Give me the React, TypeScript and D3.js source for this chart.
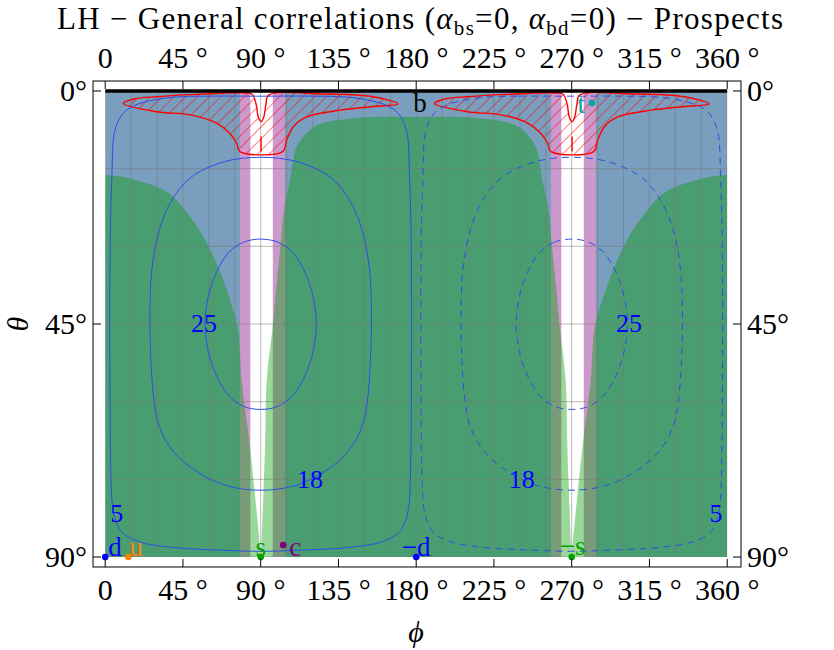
import React from 'react';
import * as d3 from 'd3';

const width = 834;
const height = 650;

// axes
const phiTicks = [0, 45, 90, 135, 180, 225, 270, 315, 360];
const phiTickLabels = ['0', '45 °', '90 °', '135 °', '180 °', '225 °', '270 °', '315 °', '360 °'];
const thetaTicks = [0, 45, 90];
const thetaTickLabels = ['0°', '45°', '90°'];
const phiGrid = [0, 15, 30, 45, 60, 75, 90, 105, 120, 135, 150, 165, 180, 195, 210, 225, 240, 255, 270, 285, 300, 315, 330, 345, 360];
const thetaGrid = [0, 15, 30, 45, 60, 75, 90];

// vertical bands (phi ranges)
const pinkBands = [[78, 104], [258, 284]];
const whiteBands = [[84, 97], [264, 277]];

// green region edges, [phi, theta]
const greenEdgeSide = [
  [0, 16.2], [10.5, 16.6], [29.8, 18.5], [39.4, 20.4], [49.1, 24.3], [56.8, 28.1],
  [64.5, 33.3], [70.3, 38.4], [74.1, 42.3], [77, 46.2], [79, 55.8], [83.8, 68.8],
  [87, 79], [90.2, 90],
];
const greenEdgeMid = [
  [90.2, 90], [92.5, 68.8], [93.5, 55.8], [96.9, 45.6], [98.9, 38.4], [101.2, 30.7],
  [103.5, 23], [107, 17.2], [110.8, 10.8], [118.5, 7.5], [126, 6.2], [145.6, 5.2], [180, 5],
];

// contour levels, left half (top -> bottom), symmetric about phi = 90
const contour5 = [
  [90, 1.0], [58.7, 1.0], [39.4, 1.2], [25.9, 1.9], [16.3, 2.9], [10.5, 4.3], [5.7, 7.5],
  [3.8, 17.2], [2.8, 32.6], [2.8, 59.7], [3.4, 75.1], [4.2, 80], [6.3, 83.2], [10.3, 85.4],
  [20.1, 87.1], [37.5, 88.1], [68.2, 88.7], [90, 88.9],
];
const contour18 = [
  [90, 12.8], [68.4, 13.7], [49.1, 16.8], [38, 21.4], [31, 27.2], [27, 34.6],
  [25.9, 42.9], [26.5, 52], [28.2, 59.7], [31, 64.5], [38, 69], [49.1, 72.6],
  [68.2, 76], [90, 77.1],
];
const contour25 = [
  [90, 28.6], [80, 29.2], [72, 31], [66.5, 33.6], [62, 37], [59, 40.8], [57.8, 44.9],
  [59, 49.2], [62, 53], [66.5, 56.4], [72, 59], [80, 60.9], [90, 61.5],
];
const contourLevels = ['5', '18', '25'];
const contourLabelSolid = [[6.7, 81.5], [118.5, 74.9], [57.2, 44.8]];
const contourLabelDashed = [[353.5, 81.5], [241.1, 74.9], [303.2, 44.8]];

// excluded (hatched) region near theta = 0, repeated at phi + 180
const hatchOutline = [
  [10.5, 2.4], [17.2, 1.5], [29.8, 1.1], [49.1, 0.7], [83.8, 0.45], [85.5, 0.8],
  [87.4, 2.6], [88.6, 5.0], [90.2, 5.9], [91.8, 5.0], [93, 2.6], [94.6, 0.8],
  [126, 0.58], [155, 1.1], [169.6, 2.5], [155, 3.0], [135.9, 3.7], [116.6, 5.0],
  [108.9, 6.9], [105, 9.5], [102.7, 11.7], [78, 11.7], [76.1, 10.1], [72.2, 8.2],
  [64.5, 6.2], [49.1, 4.6], [29.8, 4.0],
];
const hatchSliver = [[90.2, 8.8], [90.2, 11.7]];
const hatchShifts = [0, 180];

// labelled points
const pointNames = ['d', 'u', 's', 'c', '−d', '−s', 't', 'b'];
const pointPhi = [0, 13.4, 90, 103, 180, 270, 281.7, 180];
const pointTheta = [90, 90, 90, 87.7, 90, 90, 2.3, 0];

const pointColors = ['#0000ff', '#ff8000', '#00a000', '#800080', '#0000ff', '#00a000', '#00a8a8', '#000000'];
const pointRadius = [3.3, 3.3, 3.3, 3.3, 3.3, 3.3, 3.3, 0];
const pointLabelOffset = [[3, -1, 'start'], [1, -1, 'start'], [0, -1, 'middle'], [6, 11, 'start'], [0, -1, 'middle'], [1, -2, 'middle'], [-7, 10, 'end'], [-3, 21, 'start']];

const serif = "Liberation Serif, serif";

export default function App() {
  const x = d3.scaleLinear().domain([0, 360]).range([105.2, 727.2]);
  const y = d3.scaleLinear().domain([0, 90]).range([91, 557]);

  const open = d3.line().x(d => x(d[0])).y(d => y(d[1])).curve(d3.curveCatmullRom.alpha(0.5));
  const closed = d3.line().x(d => x(d[0])).y(d => y(d[1])).curve(d3.curveCatmullRomClosed.alpha(0.5));
  const straight = d3.line().x(d => x(d[0])).y(d => y(d[1]));

  const lobeA = `M${x(0)},${y(90)}L` + open(greenEdgeSide).slice(1) + 'Z';
  const lobeC = `M${x(360)},${y(90)}L` + open(greenEdgeSide.map(([p, t]) => [360 - p, t])).slice(1) + 'Z';
  const midFull = greenEdgeMid.concat(greenEdgeMid.slice(0, -1).reverse().map(([p, t]) => [360 - p, t]));
  const lobeB = open(midFull) + 'Z';

  const fullContour = half => half.concat(half.slice(1, -1).reverse().map(([p, t]) => [180 - p, t]));
  const contours = [contour5, contour18, contour25].map(fullContour);

  const frame = { x0: 93, x1: 741, y0: 81, y1: 567 };

  return (
    <svg width={width} height={height} style={{ position: 'absolute', left: 0, top: 0, background: '#fff', fontFamily: serif }}>
      <defs>
        <pattern id="hatch" patternUnits="userSpaceOnUse" width="8.3" height="8.3" patternTransform="rotate(45)">
          <line x1="0" y1="0" x2="0" y2="8.3" stroke="#ff0000" strokeWidth="1" />
        </pattern>
        <clipPath id="plotClip">
          <rect x={x(0)} y={y(0)} width={x(360) - x(0)} height={y(90) - y(0)} />
        </clipPath>
      </defs>

      {/* title */}
      <text x={420} y={29} textAnchor="middle" fontSize={31} textLength={726} lengthAdjust="spacing">
        LH − General correlations (<tspan fontStyle="italic">α</tspan>
        <tspan fontSize={21} dy={6}>bs</tspan>
        <tspan dy={-6}>=0, </tspan>
        <tspan fontStyle="italic">α</tspan>
        <tspan fontSize={21} dy={6}>bd</tspan>
        <tspan dy={-6}>=0) − Prospects</tspan>
      </text>

      <g clipPath="url(#plotClip)">
        <rect x={x(0)} y={y(0)} width={x(360) - x(0)} height={y(90) - y(0)} fill="#7a9ebd" />
        {pinkBands.map((b, i) => (
          <rect key={'p' + i} x={x(b[0])} y={y(0)} width={x(b[1]) - x(b[0])} height={y(90) - y(0)} fill="#cc99cc" />
        ))}
        {whiteBands.map((b, i) => (
          <rect key={'w' + i} x={x(b[0])} y={y(0)} width={x(b[1]) - x(b[0])} height={y(90) - y(0)} fill="#ffffff" />
        ))}
        {[lobeA, lobeB, lobeC].map((d, i) => (
          <path key={'g' + i} d={d} fill="#009e00" fillOpacity={0.4} />
        ))}

        {/* grid */}
        {phiGrid.map(p => (
          <line key={'gx' + p} x1={x(p)} x2={x(p)} y1={y(0)} y2={y(90)} stroke="#777" strokeOpacity={0.5} />
        ))}
        {thetaGrid.map(t => (
          <line key={'gy' + t} x1={x(0)} x2={x(360)} y1={y(t)} y2={y(t)} stroke="#777" strokeOpacity={0.5} />
        ))}

        {/* hatched regions */}
        {hatchShifts.map(s => (
          <g key={'h' + s}>
            <path d={closed(hatchOutline.map(([p, t]) => [p + s, t]))} fill="url(#hatch)" stroke="#ff0000" strokeWidth={1.4} />
            <path d={straight(hatchSliver.map(([p, t]) => [p + s, t]))} stroke="#ff0000" strokeWidth={1.4} />
          </g>
        ))}

        {/* contours */}
        {contours.map((c, i) => (
          <g key={'c' + i}>
            <path d={closed(c)} fill="none" stroke="#2d4fe6" strokeWidth={1} />
            <path d={closed(c.map(([p, t]) => [p + 180, t]))} fill="none" stroke="#2d4fe6" strokeWidth={1} strokeDasharray="7 5" />
          </g>
        ))}
      </g>

      {contourLevels.map((lv, i) => (
        <g key={'cl' + i} fill="#0000ff" fontSize={26} textAnchor="middle">
          <text x={x(contourLabelSolid[i][0])} y={y(contourLabelSolid[i][1]) + 9}>{lv}</text>
          <text x={x(contourLabelDashed[i][0])} y={y(contourLabelDashed[i][1]) + 9}>{lv}</text>
        </g>
      ))}

      {/* theta = 0 line */}
      <line x1={x(0)} x2={x(360)} y1={y(0)} y2={y(0)} stroke="#000" strokeWidth={3.5} />

      {/* points */}
      {pointNames.map((n, i) => {
        const cx = x(pointPhi[i]);
        const cy = y(pointTheta[i]);
        const [dx, dy, anchor] = pointLabelOffset[i];
        return (
          <g key={'pt' + i} fill={pointColors[i]}>
            {pointRadius[i] > 0 && <circle cx={cx} cy={cy} r={pointRadius[i]} />}
            <text x={cx + dx} y={cy + dy} fontSize={27} textAnchor={anchor}>{n}</text>
          </g>
        );
      })}

      {/* frame */}
      <rect x={frame.x0} y={frame.y0} width={frame.x1 - frame.x0} height={frame.y1 - frame.y0} fill="none" stroke="#000" strokeWidth={1} />
      {phiTicks.map((p, i) => (
        <g key={'tx' + p}>
          <line x1={x(p)} x2={x(p)} y1={frame.y0} y2={frame.y0 + 8} stroke="#000" />
          <line x1={x(p)} x2={x(p)} y1={frame.y1} y2={frame.y1 - 8} stroke="#000" />
          <text x={x(p)} y={68} fontSize={30} textAnchor="middle">{phiTickLabels[i]}</text>
          <text x={x(p)} y={600} fontSize={30} textAnchor="middle">{phiTickLabels[i]}</text>
        </g>
      ))}
      {thetaTicks.map((t, i) => (
        <g key={'ty' + t}>
          <line x1={frame.x0} x2={frame.x0 + 8} y1={y(t)} y2={y(t)} stroke="#000" />
          <line x1={frame.x1} x2={frame.x1 - 8} y1={y(t)} y2={y(t)} stroke="#000" />
          <text x={87} y={y(t) + 10} fontSize={30} textAnchor="end">{thetaTickLabels[i]}</text>
          <text x={747} y={y(t) + 10} fontSize={30} textAnchor="start">{thetaTickLabels[i]}</text>
        </g>
      ))}

      {/* axis labels */}
      <text x={416} y={642} fontSize={30} fontStyle="italic" textAnchor="middle">ϕ</text>
      <text transform={`translate(28,${y(45)}) rotate(-90)`} fontSize={30} fontStyle="italic" textAnchor="middle">θ</text>
    </svg>
  );
}
